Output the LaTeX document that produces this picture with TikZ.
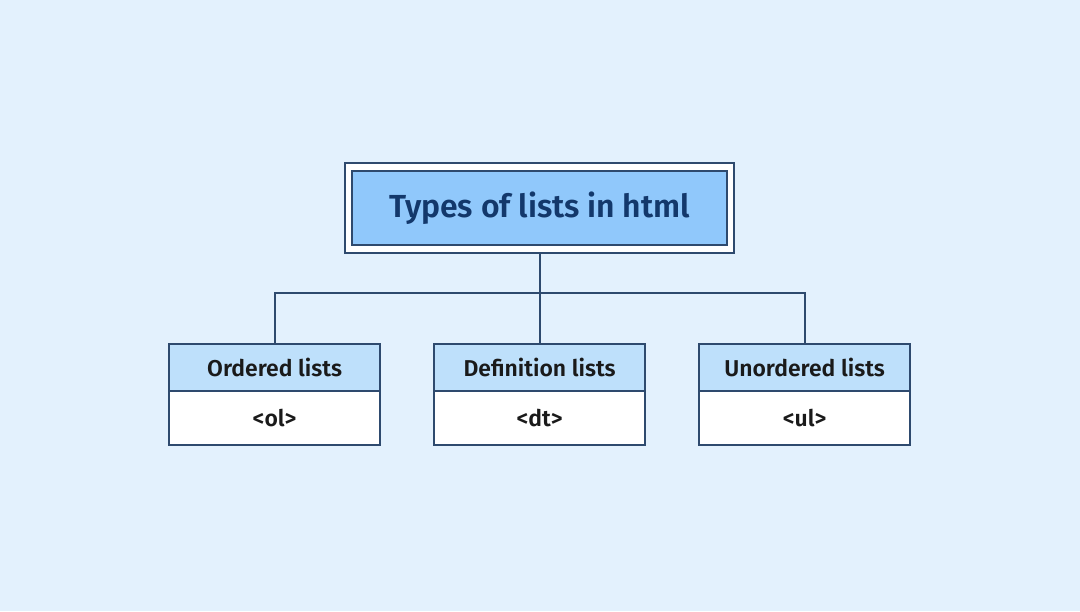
\documentclass[tikz,border=0pt]{standalone}
\usepackage{fontspec}
\setmainfont{Fira Sans}
\newfontfamily\semib{Fira Sans SemiBold}
\usepackage{tikz}
\usetikzlibrary{positioning,calc}

\definecolor{bgblue}{HTML}{E3F1FD}
\definecolor{titleblue}{HTML}{90C8FB}
\definecolor{headblue}{HTML}{BEE0FB}
\definecolor{edgeblue}{HTML}{2E4A6E}
\definecolor{titletext}{HTML}{13386B}
\definecolor{labeltext}{HTML}{1A1A1A}

\begin{document}
\begin{tikzpicture}[
  titlebox/.style={rectangle, draw=edgeblue, line width=1.3pt, fill=titleblue,
                   minimum width=9.375cm, minimum height=1.85cm, outer sep=0pt,
                   font=\semib\fontsize{22.7}{26}\selectfont, text=titletext},
  framebox/.style={rectangle, draw=edgeblue, line width=1.3pt, fill=white,
                   minimum width=9.725cm, minimum height=2.25cm, outer sep=0pt},
  headbox/.style={rectangle, draw=edgeblue, line width=1.3pt, fill=headblue,
                  minimum width=5.275cm, minimum height=1.175cm, outer sep=0pt,
                  font=\semib\fontsize{16.3}{19}\selectfont, text=labeltext},
  tagbox/.style={rectangle, draw=edgeblue, line width=1.3pt, fill=white,
                 minimum width=5.275cm, minimum height=1.35cm, outer sep=0pt,
                 font=\semib\fontsize{16.3}{19}\selectfont, text=labeltext},
  link/.style={draw=edgeblue, line width=1.3pt},
]

\fill[bgblue] (0,0) rectangle (27,15.275);
\useasboundingbox (0,0) rectangle (27,15.275);

\node[framebox] (frame) at (13.49,10.075) {};
\node[titlebox] (title) at (frame.center) {Types of lists in html};

\node[headbox, below=2.275cm of frame] (dthead) {Definition lists};
\node[headbox, left=1.35cm of dthead] (olhead) {Ordered lists};
\node[headbox, right=1.35cm of dthead] (ulhead) {Unordered lists};

\node[tagbox, below=0cm of olhead] (oltag) {<ol>};
\node[tagbox, below=0cm of dthead] (dttag) {<dt>};
\node[tagbox, below=0cm of ulhead] (ultag) {<ul>};

\coordinate (bus) at ($(frame.south)+(0,-1.0)$);

\draw[link] (frame.south) -- (bus);
\draw[link] (olhead.north) |- (bus) -| (ulhead.north);
\draw[link] (bus) -- (dthead.north);

\end{tikzpicture}
\end{document}
